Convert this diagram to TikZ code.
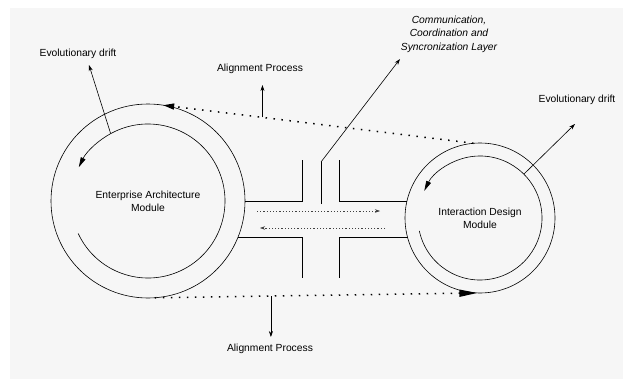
\documentclass[tikz,border=0pt]{standalone}
\usepackage{fontspec}
\setmainfont{Liberation Sans}
\usetikzlibrary{arrows.meta}
\definecolor{panel}{HTML}{F6F6F6}
\tikzset{
  module/.style={circle, draw, inner sep=0pt, outer sep=0pt, align=center, font=\fontsize{10.3}{13}\selectfont},
  lbl/.style={align=center, inner sep=0pt, font=\fontsize{10.3}{13.5}\selectfont},
  drift/.style={-{Stealth[length=6pt,width=4pt]}},
  loopback/.style={-{Triangle[length=10pt,width=5pt]}},
  bigdots/.style={line width=1.5pt, dash pattern=on 1.5pt off 6.5pt},
  smalldots/.style={line width=0.5pt, black!75, dash pattern=on 1.2pt off 2pt, -{Stealth[length=5pt,width=3.5pt]}}
}
\begin{document}
\begin{tikzpicture}[x=1pt, y=1pt, line width=0.6pt]
\useasboundingbox (0,0) rectangle (623,381);
\fill[white] (0,0) rectangle (623,381);
\fill[panel] (10,2) rectangle (623,373);

\node[module, minimum size=194pt] (ea) at (148,180) {Enterprise Architecture\\Module};
\node[module, minimum size=150pt] (id) at (480,163) {Interaction Design\\Module};

\node[lbl] (ed1) at (78,327) {Evolutionary drift};
\node[lbl] (ed2) at (577,281) {Evolutionary drift};
\node[lbl] (ap1) at (260,312) {Alignment Process};
\node[lbl] (ap2) at (270,32) {Alignment Process};
\node[lbl, font=\fontsize{10.3}{13.5}\selectfont\itshape] (ccs) at (449,347) {Communication,\\Coordination and\\Syncronization Layer};

\coordinate (ed1tip) at (89,316);
\coordinate (ed2tip) at (575,257);
\coordinate (ap1tip) at (263,296);
\coordinate (ap2tip) at (270,44);
\coordinate (ccsbase) at (321,219);
\coordinate (ccsfoot) at (321,177);
\coordinate (ccstip) at (400,322);
\coordinate (fwd1) at (257,170);
\coordinate (fwd2) at (380,170);
\coordinate (bck1) at (385,153);
\coordinate (bck2) at (260,153);

\draw[loopback] (ea.center) ++(205:77) arc[start angle=205, end angle=514, radius=77];
\draw[loopback] (id.center) ++(192:62) arc[start angle=192, end angle=514, radius=62];

\path (ea.center) ++(119:77) coordinate (ed1base);
\path (id.center) ++(45:62) coordinate (ed2base);
\draw[drift] (ed1base) -- (ed1tip);
\draw[drift] (ed2base) -- (ed2tip);

\draw[bigdots, -{Triangle[length=11pt,width=6pt]}] (id.95) -- coordinate[pos=0.68] (ap1base) (ea.81);
\draw[bigdots, -{Triangle[length=18pt,width=7pt]}] (ea.274) -- coordinate[pos=0.36] (ap2base) (id.268);
\draw[drift] (ap1base) -- (ap1base |- ap1tip);
\draw[drift] (ap2base) -- (ap2base |- ap2tip);

\draw (ea.east) -| (302,221);
\draw (ea.-22) -| (302,103);
\draw (id.167) -| (339,221);
\draw (id.195) -| (339,103);
\draw (ccsfoot) -- (ccsbase);
\draw[drift] (ccsbase) -- (ccstip);

\draw[smalldots] (fwd1) -- (fwd2);
\draw[smalldots] (bck1) -- (bck2);
\end{tikzpicture}
\end{document}
